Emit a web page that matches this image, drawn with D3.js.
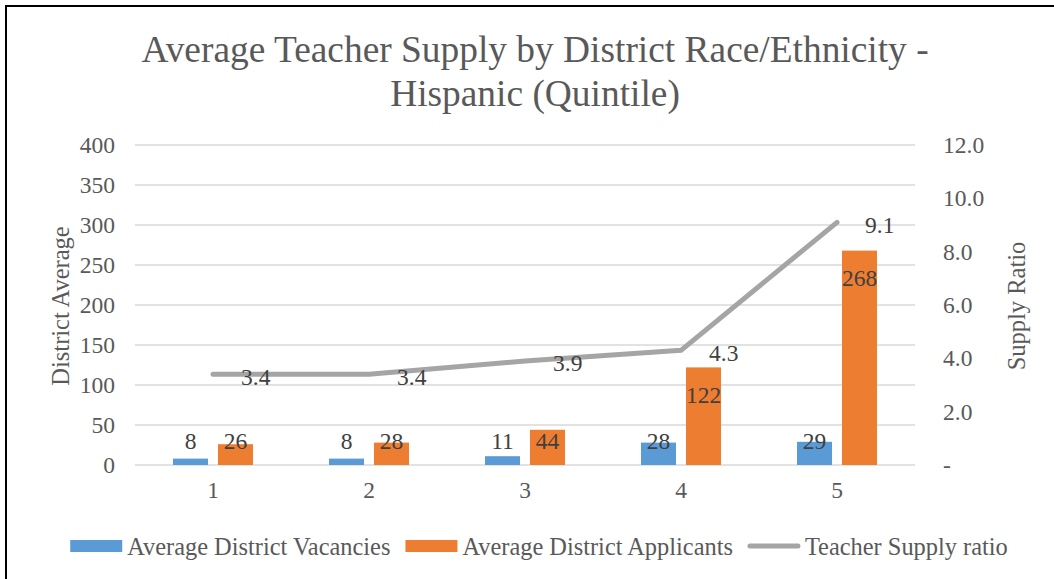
<!DOCTYPE html>
<html>
<head>
<meta charset="utf-8">
<script src="https://cdn.jsdelivr.net/npm/d3@7"></script>
<style>
  body { margin: 0; background: #fff; }
  svg { display: block; font-family: "Liberation Serif", "Times New Roman", serif; }
</style>
</head>
<body>
<svg id="chart" width="1054" height="579"></svg>
<script>
// data
const quintiles = ['1', '2', '3', '4', '5'];
const vacancies = [8, 8, 11, 28, 29];
const applicants = [26, 28, 44, 122, 268];
const supplyRatio = [3.4, 3.4, 3.9, 4.3, 9.1];
const leftTicks = [0, 50, 100, 150, 200, 250, 300, 350, 400];
const rightTicks = [0, 2, 4, 6, 8, 10, 12];
const seriesNames = ['Average District Vacancies', 'Average District Applicants', 'Teacher Supply ratio'];

const colors = { vac: '#5b9bd5', app: '#ed7d31', ratio: '#a5a5a5' },
    textCol = '#595959',
    labelCol = '#404040';

const svg = d3.select('#chart');

// frame (only top and left edges show in the picture)
svg.append('path')
    .attr('d', 'M6,579V6H1054')
    .attr('fill', 'none')
    .attr('stroke', '#000')
    .attr('stroke-width', 2);

const plot = { left: 135, right: 915, top: 145, bottom: 465 };

const x = d3.scaleBand()
    .domain(quintiles)
    .range([plot.left, plot.right]);
const xSub = d3.scaleBand()
    .domain(['vac', 'app'])
    .range([x.bandwidth() / 2 - 40, x.bandwidth() / 2 + 40])
    .paddingInner(10 / 45);
const y = d3.scaleLinear().domain([0, 400]).range([plot.bottom, plot.top]);
const y2 = d3.scaleLinear().domain([0, 12]).range([plot.bottom, plot.top]);

// title
const title = svg.append('text')
    .attr('text-anchor', 'middle')
    .attr('fill', textCol)
    .attr('font-size', '37.4px');
title.append('tspan').attr('x', 535).attr('y', 62).text('Average Teacher Supply by District Race/Ethnicity -');
title.append('tspan').attr('x', 535).attr('y', 106).text('Hispanic (Quintile)');

// gridlines
svg.append('g')
    .selectAll('line')
    .data(leftTicks)
    .join('line')
    .attr('x1', plot.left).attr('x2', plot.right)
    .attr('y1', d => y(d)).attr('y2', d => y(d))
    .attr('stroke', '#d9d9d9')
    .attr('stroke-width', 1.5);

//Strip d3 axis defaults so ticks use the page serif font.
function styleAxis(g) {
    g.attr('font-family', null).attr('font-size', null);
    g.select('.domain').remove();
    g.selectAll('text')
        .attr('font-size', '23.5px')
        .attr('fill', textCol);
}

// left axis
svg.append('g')
    .attr('transform', `translate(115,0)`)
    .call(d3.axisLeft(y).tickValues(leftTicks).tickSize(0).tickPadding(0))
    .call(styleAxis);

// right axis
svg.append('g')
    .attr('transform', `translate(943,0)`)
    .call(d3.axisRight(y2).tickValues(rightTicks).tickSize(0).tickPadding(0)
        .tickFormat(d => d === 0 ? '-' : d3.format('.1f')(d)))
    .call(styleAxis);

// x axis
svg.append('g')
    .attr('transform', `translate(0,${plot.bottom})`)
    .call(d3.axisBottom(x).tickSize(0).tickPadding(16))
    .call(styleAxis);

// axis titles
svg.append('text')
    .attr('transform', 'translate(69,306) rotate(-90)')
    .attr('text-anchor', 'middle')
    .attr('font-size', '24.5px')
    .attr('fill', textCol)
    .text('District Average');
svg.append('text')
    .attr('transform', 'translate(1025,306) rotate(-90)')
    .attr('text-anchor', 'middle')
    .attr('font-size', '24.5px')
    .attr('fill', textCol)
    .text('Supply Ratio');

// bars
const rows = quintiles.map((q, i) => ({ q, vac: vacancies[i], app: applicants[i], ratio: supplyRatio[i] }));
const barG = svg.append('g');
['vac', 'app'].forEach(key => {
    barG.selectAll(`rect.${key}`)
        .data(rows)
        .join('rect')
        .attr('class', key)
        .attr('x', d => x(d.q) + xSub(key))
        .attr('width', xSub.bandwidth())
        .attr('y', d => y(d[key]))
        .attr('height', d => y(0) - y(d[key]))
        .attr('fill', colors[key]);
    barG.selectAll(`text.${key}`)
        .data(rows)
        .join('text')
        .attr('class', key)
        .attr('x', d => x(d.q) + xSub(key) + xSub.bandwidth() / 2)
        .attr('y', d => Math.min(y(d[key]) + 27, y(0) - 24))
        .attr('dy', '0.35em')
        .attr('text-anchor', 'middle')
        .attr('font-size', '23.5px')
        .attr('fill', labelCol)
        .text(d => d[key]);
});

// ratio line
const line = d3.line()
    .x(d => x(d.q) + x.bandwidth() / 2)
    .y(d => y2(d.ratio));
svg.append('path')
    .datum(rows)
    .attr('d', line)
    .attr('fill', 'none')
    .attr('stroke', colors.ratio)
    .attr('stroke-width', 5)
    .attr('stroke-linecap', 'round')
    .attr('stroke-linejoin', 'round');
svg.append('g')
    .selectAll('text')
    .data(rows)
    .join('text')
    .attr('x', d => x(d.q) + x.bandwidth() / 2 + 28)
    .attr('y', d => y2(d.ratio) + 2)
    .attr('dy', '0.35em')
    .attr('font-size', '23.5px')
    .attr('fill', labelCol)
    .text(d => d3.format('.1f')(d.ratio));

// legend
const legend = svg.append('g');
const items = seriesNames.map((name, i) => ({ name, key: ['vac', 'app', 'ratio'][i] }));
let cursor = 0;
items.forEach(it => {
    const g = legend.append('g').attr('transform', `translate(${cursor},0)`);
    if (it.key === 'ratio') {
        g.append('line')
            .attr('x1', 2).attr('x2', 50).attr('y1', 0).attr('y2', 0)
            .attr('stroke', colors.ratio).attr('stroke-width', 5).attr('stroke-linecap', 'round');
    } else {
        g.append('rect')
            .attr('x', 0).attr('y', -6).attr('width', 52).attr('height', 12)
            .attr('fill', colors[it.key]);
    }
    const t = g.append('text')
        .attr('x', 57)
        .attr('dy', '0.35em')
        .attr('font-size', '24.4px')
        .attr('fill', textCol)
        .text(it.name);
    cursor += 57 + t.node().getComputedTextLength() + 15;
});
const legendWidth = cursor - 15;
legend.attr('transform', `translate(${539 - legendWidth / 2},546)`);
</script>
</body>
</html>
